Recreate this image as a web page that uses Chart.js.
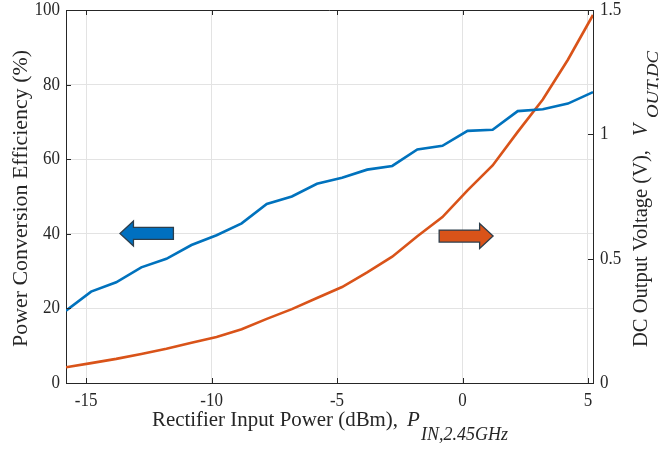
<!DOCTYPE html>
<html>
<head>
<meta charset="utf-8">
<script src="https://cdn.jsdelivr.net/npm/chart.js@4"></script>
<style>
  body { margin: 0; background: #fff; }
  #wrap { width: 659px; height: 449px; }
</style>
</head>
<body>
<div id="wrap"><canvas id="myChart" width="659" height="449"></canvas></div>
<script>
// input power (dBm)
var pinDbm = [-15.8, -14.8, -13.8, -12.8, -11.8, -10.8, -9.8, -8.8, -7.8, -6.8, -5.8,
              -4.8, -3.8, -2.8, -1.8, -0.8, 0.2, 1.2, 2.2, 3.2, 4.2, 5.2];
// power conversion efficiency (%)
var effPct = [19.4, 24.5, 27.0, 31.0, 33.3, 37.0, 39.6, 42.8, 48.0, 50.0, 53.4,
              55.0, 57.2, 58.2, 62.6, 63.6, 67.6, 67.9, 72.9, 73.4, 74.9, 78.0];
// DC output voltage (V)
var voutV = [0.063, 0.080, 0.097, 0.117, 0.138, 0.162, 0.185, 0.216, 0.258, 0.297, 0.342,
             0.386, 0.445, 0.508, 0.590, 0.667, 0.775, 0.875, 1.01, 1.14, 1.30, 1.48];

var xTicks = [-15, -10, -5, 0, 5];
var yTicks = [0, 20, 40, 60, 80, 100];
var y1Ticks = [0, 0.5, 1, 1.5];

var blue = '#0072BD';
var orange = '#D95319';
var axisCol = '#262626';
var serif = '"Liberation Serif", "DejaVu Serif", serif';

function toPts(xs, ys) {
    return xs.map(function (x, i) { return { x: x, y: ys[i] }; });
}
function fixTicks(list) {
    return function (scale) {
        scale.ticks = list.map(function (v) { return { value: v }; });
    };
}

// text squeezed/stretched to a given length, sy = height factor
function putText(ctx, txt, font, x, y, len, sy, align) {
    ctx.font = font;
    var w = ctx.measureText(txt).width;
    var sx = len ? len / w : 1;
    ctx.save();
    ctx.translate(x, y);
    ctx.scale(sx, sy || 1);
    ctx.textAlign = align || 'left';
    ctx.fillText(txt, 0, 0);
    ctx.restore();
}

// inward ticks, top border, arrows, tick labels and axis titles
var matlabLook = {
    id: 'matlabLook',
    afterDatasetsDraw: function (chart) {
        var ctx = chart.ctx, a = chart.chartArea;
        var sx = chart.scales.x, sy = chart.scales.y, sy1 = chart.scales.y1;

        function arrow(x0, x1, yv, fill) {
            var px0 = sx.getPixelForValue(x0), px1 = sx.getPixelForValue(x1);
            var py = sy.getPixelForValue(yv);
            var dir = px1 > px0 ? 1 : -1;
            var head = 13.5, hh = 12.5, sh = 6;
            var hb = px1 - dir * head;
            ctx.save();
            ctx.beginPath();
            ctx.moveTo(px0, py - sh);
            ctx.lineTo(hb, py - sh);
            ctx.lineTo(hb, py - hh);
            ctx.lineTo(px1, py);
            ctx.lineTo(hb, py + hh);
            ctx.lineTo(hb, py + sh);
            ctx.lineTo(px0, py + sh);
            ctx.closePath();
            ctx.fillStyle = fill;
            ctx.fill();
            ctx.lineWidth = 1.3;
            ctx.strokeStyle = '#2c3e4c';
            ctx.stroke();
            ctx.restore();
        }
        arrow(-11.52, -13.65, 40.1, '#0070C0');
        arrow(-0.93, 1.22, 39.4, orange);

        ctx.save();
        ctx.strokeStyle = axisCol;
        ctx.lineWidth = 1;
        ctx.beginPath();
        ctx.moveTo(a.left, a.top + 0.5);
        ctx.lineTo(a.right, a.top + 0.5);
        var tl = 5;
        xTicks.forEach(function (v) {
            var px = Math.round(sx.getPixelForValue(v)) + 0.5;
            ctx.moveTo(px, a.bottom); ctx.lineTo(px, a.bottom - tl);
            ctx.moveTo(px, a.top); ctx.lineTo(px, a.top + tl);
        });
        yTicks.forEach(function (v) {
            var py = Math.round(sy.getPixelForValue(v)) + 0.5;
            ctx.moveTo(a.left, py); ctx.lineTo(a.left + tl, py);
        });
        y1Ticks.forEach(function (v) {
            var py = Math.round(sy1.getPixelForValue(v)) + 0.5;
            ctx.moveTo(a.right, py); ctx.lineTo(a.right - tl, py);
        });
        ctx.stroke();
        ctx.restore();
    },
    afterDraw: function (chart) {
        var ctx = chart.ctx, a = chart.chartArea;
        var sx = chart.scales.x, sy = chart.scales.y, sy1 = chart.scales.y1;
        var tf = '17px ' + serif;
        ctx.save();
        ctx.fillStyle = axisCol;

        // tick labels
        ctx.textBaseline = 'middle';
        xTicks.forEach(function (v) {
            putText(ctx, String(v), tf, sx.getPixelForValue(v), a.bottom + 18, 0, 1.1, 'center');
        });
        yTicks.forEach(function (v) {
            putText(ctx, String(v), tf, a.left - 6, sy.getPixelForValue(v), 0, 1.1, 'right');
        });
        y1Ticks.forEach(function (v) {
            putText(ctx, String(v), tf, a.right + 7, sy1.getPixelForValue(v), 0, 1.1, 'left');
        });

        // x title
        ctx.textBaseline = 'alphabetic';
        putText(ctx, 'Rectifier Input Power (dBm),', '21px ' + serif, 152, 426, 246, 1);
        putText(ctx, 'P', 'italic 21px ' + serif, 407, 426, 0, 1);
        putText(ctx, 'IN,2.45GHz', 'italic 18px ' + serif, 421, 440, 87, 1);

        // left title
        ctx.save();
        ctx.translate(27, 347);
        ctx.rotate(-Math.PI / 2);
        putText(ctx, 'Power Conversion Efficiency (%)', '22px ' + serif, 0, 0, 297, 1);
        ctx.restore();

        // right title
        ctx.save();
        ctx.translate(647, 347);
        ctx.rotate(-Math.PI / 2);
        putText(ctx, 'DC Output Voltage (V),', '20px ' + serif, 0, 0, 197, 1);
        putText(ctx, 'V', 'italic 20px ' + serif, 211, 0, 0, 1);
        putText(ctx, 'OUT,DC', 'italic 17px ' + serif, 229, 11, 67, 1);
        ctx.restore();

        ctx.restore();
    }
};

new Chart(document.getElementById('myChart'), {
    type: 'line',
    data: {
        datasets: [
            {
                label: 'Efficiency',
                data: toPts(pinDbm, effPct),
                yAxisID: 'y',
                borderColor: blue,
                borderWidth: 2.6,
                pointRadius: 0,
                tension: 0
            },
            {
                label: 'Vout',
                data: toPts(pinDbm, voutV),
                yAxisID: 'y1',
                borderColor: orange,
                borderWidth: 2.6,
                pointRadius: 0,
                tension: 0
            }
        ]
    },
    plugins: [matlabLook],
    options: {
        responsive: false,
        animation: false,
        events: [],
        layout: {
            padding: { left: 66, right: 66, top: 10, bottom: 66 }
        },
        plugins: {
            legend: { display: false },
            tooltip: { enabled: false }
        },
        scales: {
            x: {
                type: 'linear',
                min: pinDbm[0],
                max: pinDbm[pinDbm.length - 1],
                afterBuildTicks: fixTicks(xTicks),
                grid: { color: '#e3e3e3', drawTicks: false },
                border: { color: axisCol, width: 1 },
                ticks: { display: false }
            },
            y: {
                type: 'linear',
                position: 'left',
                min: 0,
                max: 100,
                afterBuildTicks: fixTicks(yTicks),
                grid: { color: '#e3e3e3', drawTicks: false },
                border: { color: axisCol, width: 1 },
                ticks: { display: false }
            },
            y1: {
                type: 'linear',
                position: 'right',
                min: 0,
                max: 1.5,
                afterBuildTicks: fixTicks(y1Ticks),
                grid: { display: false, drawTicks: false },
                border: { color: axisCol, width: 1 },
                ticks: { display: false }
            }
        }
    }
});
</script>
</body>
</html>
